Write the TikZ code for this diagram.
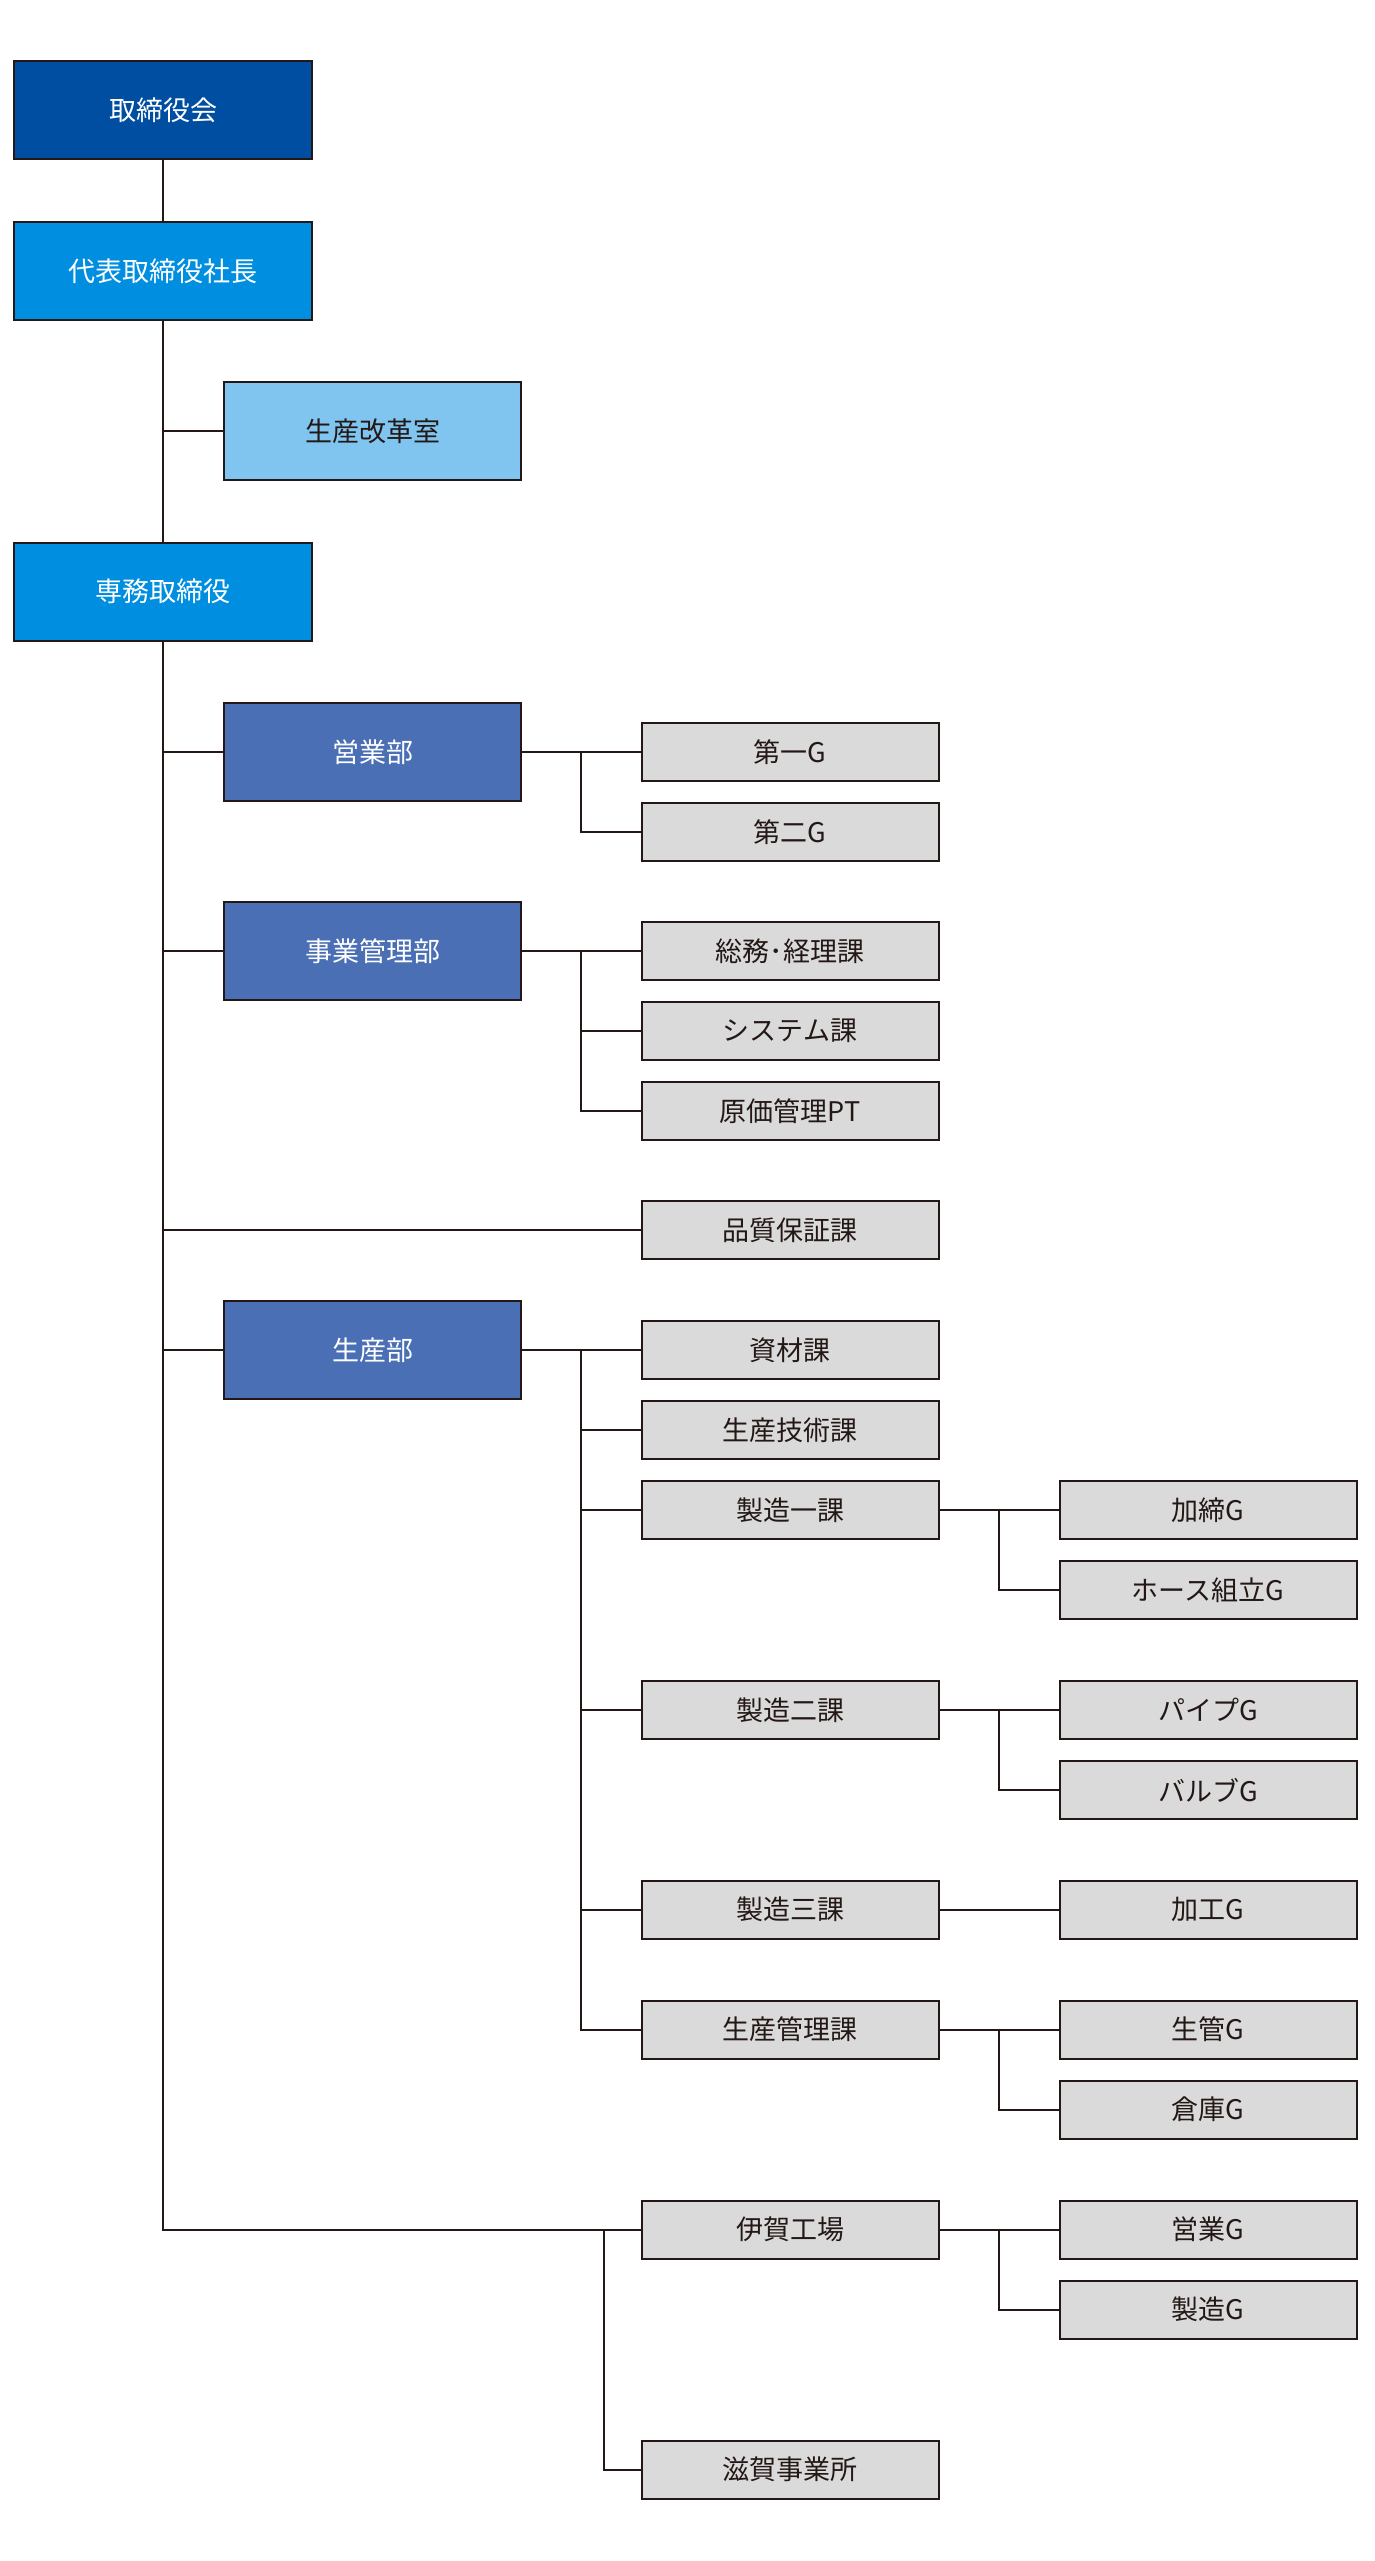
\documentclass[tikz,border=0pt]{standalone}
\usepackage{fontspec}
\setmainfont{Noto Sans CJK JP}
\usetikzlibrary{positioning, decorations.pathreplacing, calc}
\definecolor{ink}{HTML}{231815}
\definecolor{boardblue}{HTML}{004EA2}
\definecolor{execblue}{HTML}{008FE0}
\definecolor{staffblue}{HTML}{80C5EF}
\definecolor{deptblue}{HTML}{4A6FB4}
\definecolor{secgray}{HTML}{DADADA}
\tikzset{
    bigbox/.style={draw=ink, line width=1pt, minimum width=148.5pt, minimum height=49pt, inner sep=0pt, outer sep=0pt, text=white},
    smallbox/.style={draw=ink, line width=1pt, fill=secgray, minimum width=148.5pt, minimum height=29pt, inner sep=0pt, outer sep=0pt, text=ink},
    fork/.style={decorate, decoration={show path construction, lineto code={
        \draw(\tikzinputsegmentfirst)-|($(\tikzinputsegmentfirst)!.5!(\tikzinputsegmentlast)$)|-(\tikzinputsegmentlast);}
    }}
}
\begin{document}
\begin{tikzpicture}[node distance=11pt, line width=1pt, color=ink, font=\fontsize{13.5}{16}\selectfont]
  \useasboundingbox (-81.5pt,55pt) rectangle (606pt,-1225.5pt);
  \node(board)[bigbox, fill=boardblue]{取締役会};
  \node(pres)[bigbox, fill=execblue, below=31.5pt of board]{代表取締役社長};
  \node(reform)[bigbox, fill=staffblue, text=ink, below=31pt of pres, xshift=104.75pt]{生産改革室};
  \node(senmu)[bigbox, fill=execblue, below=31.25pt of reform, xshift=-104.75pt]{専務取締役};
  \node(sales)[bigbox, fill=deptblue, below=31.25pt of senmu, xshift=104.75pt]{営業部};
  \node(g1)[smallbox, right=60.25pt of sales]{第一G};
  \node(g2)[smallbox, below=of g1]{第二G};
  \node(admin)[bigbox, fill=deptblue, below=50.5pt of sales]{事業管理部};
  \node(general)[smallbox, right=60.25pt of admin]{総務･経理課};
  \node(system)[smallbox, below=of general]{システム課};
  \node(cost)[smallbox, below=of system]{原価管理PT};
  \node(quality)[smallbox, below=30.5pt of cost]{品質保証課};
  \node(prod)[bigbox, fill=deptblue, below=150.5pt of admin]{生産部};
  \node(material)[smallbox, right=60.25pt of prod]{資材課};
  \node(tech)[smallbox, below=of material]{生産技術課};
  \node(mfg1)[smallbox, below=of tech]{製造一課};
  \node(crimp)[smallbox, right=60.5pt of mfg1]{加締G};
  \node(hose)[smallbox, below=of crimp]{ホース組立G};
  \node(mfg2)[smallbox, below=71pt of mfg1]{製造二課};
  \node(pipe)[smallbox, right=60.5pt of mfg2]{パイプG};
  \node(valve)[smallbox, below=of pipe]{バルブG};
  \node(mfg3)[smallbox, below=70.75pt of mfg2]{製造三課};
  \node(machining)[smallbox, right=60.5pt of mfg3]{加工G};
  \node(control)[smallbox, below=31pt of mfg3]{生産管理課};
  \node(ctrlG)[smallbox, right=60.5pt of control]{生管G};
  \node(store)[smallbox, below=of ctrlG]{倉庫G};
  \node(iga)[smallbox, below=71pt of control]{伊賀工場};
  \node(igasales)[smallbox, right=60.5pt of iga]{営業G};
  \node(igamfg)[smallbox, below=of igasales]{製造G};
  \node(shiga)[smallbox, below=91pt of iga]{滋賀事業所};
  \coordinate(igafork) at ($(iga.west)+(-19pt,0)$);
  % main line
  \draw(board)--(pres);
  \draw(pres)--(senmu);
  \draw(reform.west)--(reform.west -| pres.south);
  \draw(senmu.south)|-(iga.west);
  \draw(sales.west)--(sales.west -| senmu.south);
  \draw(admin.west)--(admin.west -| senmu.south);
  \draw(quality.west)--(quality.west -| senmu.south);
  \draw(prod.west)--(prod.west -| senmu.south);
  % sections
  \draw[fork](sales.east)--(g1.west);
  \draw[fork](sales.east)--(g2.west);
  \draw[fork](admin.east)--(general.west);
  \draw[fork](admin.east)--(system.west);
  \draw[fork](admin.east)--(cost.west);
  \draw[fork](prod.east)--(material.west);
  \draw[fork](prod.east)--(tech.west);
  \draw[fork](prod.east)--(mfg1.west);
  \draw[fork](prod.east)--(mfg2.west);
  \draw[fork](prod.east)--(mfg3.west);
  \draw[fork](prod.east)--(control.west);
  % groups
  \draw[fork](mfg1.east)--(crimp.west);
  \draw[fork](mfg1.east)--(hose.west);
  \draw[fork](mfg2.east)--(pipe.west);
  \draw[fork](mfg2.east)--(valve.west);
  \draw[fork](mfg3.east)--(machining.west);
  \draw[fork](control.east)--(ctrlG.west);
  \draw[fork](control.east)--(store.west);
  \draw[fork](iga.east)--(igasales.west);
  \draw[fork](iga.east)--(igamfg.west);
  \draw(igafork)|-(shiga.west);
\end{tikzpicture}
\end{document}
